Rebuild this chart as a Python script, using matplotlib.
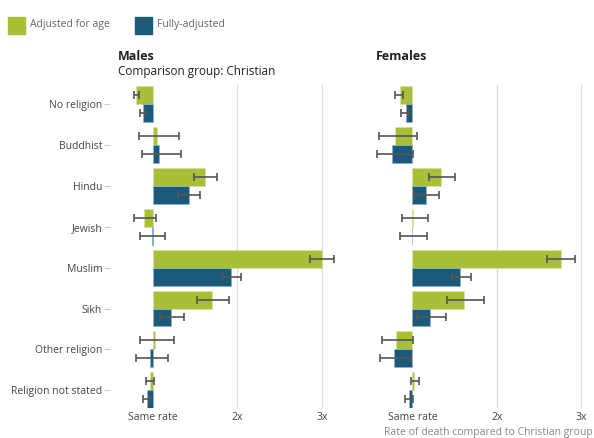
import matplotlib.pyplot as plt
import numpy as np

plt.rcParams['font.family'] = ['Open Sans', 'DejaVu Sans']

categories = ['No religion', 'Buddhist', 'Hindu', 'Jewish', 'Muslim', 'Sikh',
              'Other religion', 'Religion not stated']

# Males: rate ratio with lower / upper confidence limits
males_age = [0.80, 1.05, 1.62, 0.90, 3.00, 1.70, 1.03, 0.965]
males_age_lo = [0.78, 0.84, 1.49, 0.78, 2.86, 1.52, 0.85, 0.92]
males_age_hi = [0.84, 1.31, 1.76, 1.04, 3.15, 1.90, 1.25, 1.01]
males_full = [0.89, 1.08, 1.43, 0.99, 1.93, 1.22, 0.97, 0.93]
males_full_lo = [0.85, 0.87, 1.30, 0.85, 1.83, 1.09, 0.80, 0.89]
males_full_hi = [0.91, 1.34, 1.56, 1.14, 2.05, 1.37, 1.18, 0.97]

# Females
females_age = [0.85, 0.80, 1.34, 1.01, 2.76, 1.61, 0.81, 1.02]
females_age_lo = [0.80, 0.60, 1.20, 0.88, 2.59, 1.41, 0.64, 0.98]
females_age_hi = [0.89, 1.05, 1.50, 1.18, 2.93, 1.85, 1.01, 1.08]
females_full = [0.92, 0.76, 1.16, 1.00, 1.57, 1.21, 0.78, 0.96]
females_full_lo = [0.87, 0.58, 1.02, 0.86, 1.47, 1.06, 0.62, 0.91]
females_full_hi = [0.96, 1.01, 1.31, 1.17, 1.70, 1.40, 0.99, 1.005]

xticks = [1, 2, 3]
xtick_labels = ['Same rate', '2x', '3x']

green = '#a8bf38'
blue = '#1b5a79'
text_col = '#444444'

fig = plt.figure(figsize=(5.94, 4.38), dpi=100)
ax_m = fig.add_axes([0.186, 0.068, 0.377, 0.738])
ax_f = fig.add_axes([0.623, 0.068, 0.377, 0.738])

y = np.arange(len(categories))
h = 0.44


def draw_panel(ax, age, age_lo, age_hi, full, full_lo, full_hi):
    age = np.array(age)
    full = np.array(full)
    for xv in [2, 3]:
        ax.axvline(xv, color='#dddddd', lw=0.9, zorder=0)
    ax.barh(y - h / 2, age - 1, left=1, height=h, color=green,
            edgecolor='#d8e4a8', lw=0.5, zorder=2)
    ax.barh(y + h / 2, full - 1, left=1, height=h, color=blue,
            edgecolor='#8fb4c8', lw=0.5, zorder=2)
    ax.errorbar(age, y - h / 2,
                xerr=[age - np.array(age_lo), np.array(age_hi) - age],
                fmt='none', ecolor='#555555', elinewidth=1.2, capsize=3,
                capthick=1.2, zorder=3)
    ax.errorbar(full, y + h / 2,
                xerr=[full - np.array(full_lo), np.array(full_hi) - full],
                fmt='none', ecolor='#555555', elinewidth=1.2, capsize=3,
                capthick=1.2, zorder=3)
    ax.set_xlim(0.5, 3.15)
    ax.set_ylim(7.44, -0.47)
    ax.set_xticks(xticks)
    ax.set_xticklabels(xtick_labels, color=text_col, fontsize=7.5)
    ax.tick_params(axis='x', length=0, pad=3)
    for s in ax.spines.values():
        s.set_visible(False)


draw_panel(ax_m, males_age, males_age_lo, males_age_hi,
           males_full, males_full_lo, males_full_hi)
draw_panel(ax_f, females_age, females_age_lo, females_age_hi,
           females_full, females_full_lo, females_full_hi)

ax_m.set_yticks(y)
ax_m.set_yticklabels(categories, color=text_col, fontsize=7.5)
ax_m.tick_params(axis='y', length=4, color='#cccccc', pad=2)
ax_f.set_yticks([])

# Titles
fig.text(118 / 594, 1 - 56 / 438, 'Males', fontsize=9, fontweight='bold',
         color='#222222', va='center')
fig.text(118 / 594, 1 - 72 / 438, 'Comparison group: Christian', fontsize=8.5,
         color='#222222', va='center')
fig.text(376 / 594, 1 - 56 / 438, 'Females', fontsize=9, fontweight='bold',
         color='#222222', va='center')

# Legend
fig.patches.append(plt.Rectangle((8 / 594, 1 - 34 / 438), 17 / 594, 17 / 438,
                                 transform=fig.transFigure, color=green))
fig.text(30 / 594, 1 - 24 / 438, 'Adjusted for age', fontsize=7.5,
         color='#666666', va='center')
fig.patches.append(plt.Rectangle((135 / 594, 1 - 34 / 438), 17 / 594, 17 / 438,
                                 transform=fig.transFigure, color=blue))
fig.text(157 / 594, 1 - 24 / 438, 'Fully-adjusted', fontsize=7.5,
         color='#666666', va='center')

fig.text(0.998, 1 - 433 / 438, 'Rate of death compared to Christian group',
         fontsize=7.5, color='#888888', ha='right', va='center')

fig.savefig('out.png', dpi=100, facecolor='white')
